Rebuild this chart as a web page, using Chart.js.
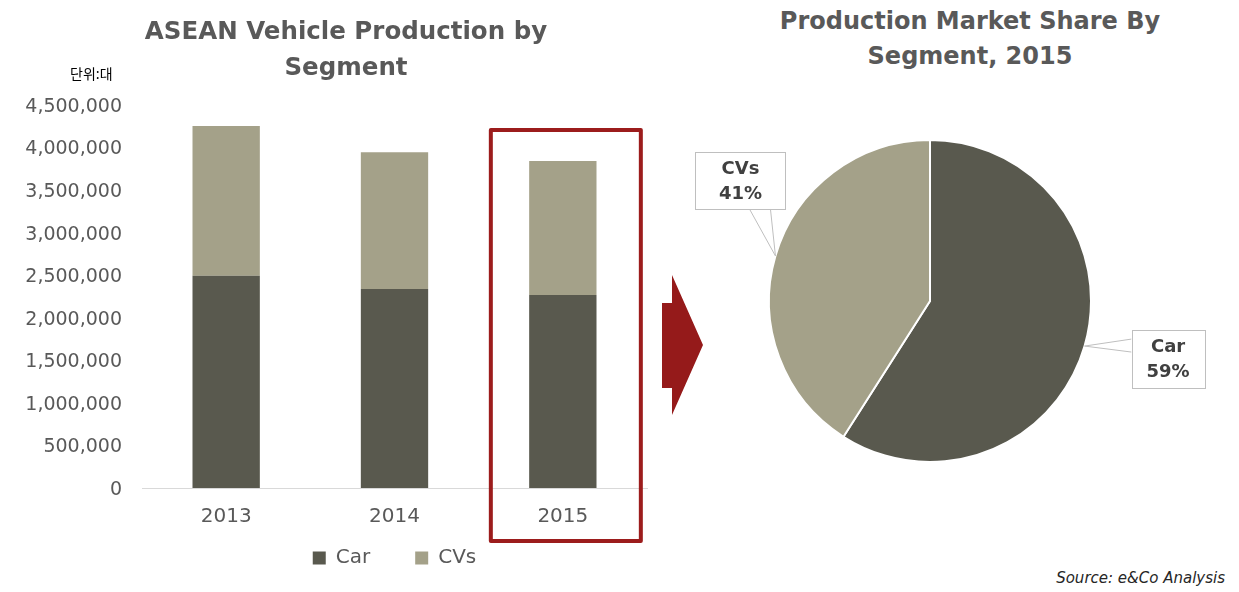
<!DOCTYPE html>
<html>
<head>
<meta charset="utf-8">
<script src="https://cdn.jsdelivr.net/npm/chart.js@4.4.0/dist/chart.umd.min.js"></script>
<style>
  body { margin: 0; background: #fff; width: 1239px; height: 592px; overflow: hidden; position: relative; font-family: "DejaVu Sans", sans-serif; }
  .title { position: absolute; text-align: center; font-weight: bold; font-size: 24px; color: #595959; line-height: 36px; z-index: 2; }
  #bar-title { left: 96px; top: 13px; width: 500px; font-size: 24.5px; }
  #pie-title { left: 720px; top: 4px; width: 500px; line-height: 35px; }
  #unit { position: absolute; left: 70px; top: 63px; font-size: 14px; font-family: "Noto Sans CJK KR", sans-serif; color: #000; z-index: 2; }
  #source { position: absolute; right: 14px; top: 569px; font-size: 15px; font-style: italic; color: #262626; z-index: 2; }
  #arrow { position: absolute; left: 662px; top: 275px; width: 41px; height: 140px; background: #951a1a; z-index: 2;
    clip-path: polygon(0 28px, 10px 28px, 10px 0, 41px 70px, 10px 140px, 10px 113px, 0 113px); }
  #bar-chart { position: absolute; left: 0; top: 0; }
  #pie-chart { position: absolute; left: 640px; top: 100px; }
</style>
</head>
<body>
<div id="bar-title" class="title">ASEAN Vehicle Production by<br>Segment</div>
<div id="unit">단위:대</div>
<div id="pie-title" class="title">Production Market Share By<br>Segment, 2015</div>
<div id="arrow"></div>
<div id="source">Source: e&amp;Co Analysis</div>
<canvas id="bar-chart" width="660" height="592"></canvas>
<canvas id="pie-chart" width="580" height="402"></canvas>
<script>
// 데이터
const years = ['2013', '2014', '2015'];
const carValues = [2494000, 2338000, 2268000];
const cvValues = [1759000, 1606000, 1574000];
const segments = ['Car', 'CVs'];
const colors = ['#59594e', '#a4a189'];

// 2015 강조 박스
const highlightBox = {
  id: 'highlightBox',
  afterDraw(chart) {
    const { ctx } = chart;
    const cx = chart.scales.x.getPixelForValue(2);
    ctx.save();
    ctx.strokeStyle = '#9c1c1c';
    ctx.lineWidth = 4;
    ctx.lineJoin = 'round';
    ctx.strokeRect(cx - 72, 130, 150, 411);
    ctx.restore();
  }
};

// 범례를 x축 라벨 바로 아래로 당김
const legendShift = {
  id: 'legendShift',
  afterLayout(chart) {
    const lg = chart.legend;
    if (!lg) return;
    lg.top -= 25;
    lg.bottom = chart.height;
  }
};

new Chart(document.getElementById('bar-chart'), {
  type: 'bar',
  data: {
    labels: years,
    datasets: [
      { label: segments[0], data: carValues, backgroundColor: colors[0] },
      { label: segments[1], data: cvValues, backgroundColor: colors[1] }
    ]
  },
  options: {
    responsive: false,
    animation: false,
    layout: { padding: { top: 105, right: 13, bottom: 14, left: 0 } },
    datasets: { bar: { categoryPercentage: 0.5, barPercentage: 0.8 } },
    plugins: {
      tooltip: { enabled: false },
      legend: {
        position: 'bottom',
        fullSize: false,
        maxHeight: 50,
        labels: {
          boxWidth: 13,
          boxHeight: 13,
          padding: 45,
          color: '#595959',
          font: { family: 'DejaVu Sans', size: 20 }
        }
      }
    },
    scales: {
      x: {
        stacked: true,
        grid: { display: false, drawTicks: false },
        border: { display: true, color: '#d9d9d9', width: 1 },
        ticks: { padding: 17, color: '#595959', font: { family: 'DejaVu Sans', size: 20 } },
        afterFit: (s) => { s.height = 40; }
      },
      y: {
        stacked: true,
        min: 0,
        max: 4500000,
        grid: { display: false, drawTicks: false },
        border: { display: false },
        ticks: {
          stepSize: 500000,
          padding: 20,
          labelOffset: 2,
          color: '#595959',
          font: { family: 'DejaVu Sans', size: 19 },
          callback: (v) => Number(v).toLocaleString('en-US')
        },
        afterFit: (s) => { s.width = 142; }
      }
    }
  },
  plugins: [highlightBox, legendShift]
});

// 파이 차트 라벨 박스 위치 (앵커 기준)
const calloutLayout = [
  { boxX: 47, boxY: -16, w: 73, h: 58, side: 'left', p1: -7, p2: 6 },
  { boxX: -80, boxY: -104, w: 90, h: 57, side: 'bottom', p1: -26, p2: -5 }
];

const pieCallouts = {
  id: 'pieCallouts',
  afterDraw(chart) {
    const { ctx } = chart;
    const meta = chart.getDatasetMeta(0);
    const values = chart.data.datasets[0].data;
    const total = values.reduce((a, b) => a + b, 0);
    meta.data.forEach((arc, i) => {
      const { x, y, startAngle, endAngle, outerRadius } = arc.getProps(['x', 'y', 'startAngle', 'endAngle', 'outerRadius'], true);
      const mid = (startAngle + endAngle) / 2;
      const ax = x + Math.cos(mid) * outerRadius;
      const ay = y + Math.sin(mid) * outerRadius;
      const L = calloutLayout[i];
      const bx = ax + L.boxX, by = ay + L.boxY;
      ctx.save();
      ctx.strokeStyle = '#bfbfbf';
      ctx.lineWidth = 1;
      ctx.beginPath();
      if (L.side === 'bottom') {
        ctx.moveTo(ax + L.p1, by + L.h);
        ctx.lineTo(ax, ay);
        ctx.lineTo(ax + L.p2, by + L.h);
      } else {
        ctx.moveTo(bx, ay + L.p1);
        ctx.lineTo(ax, ay);
        ctx.lineTo(bx, ay + L.p2);
      }
      ctx.stroke();
      ctx.fillStyle = '#fff';
      ctx.fillRect(bx, by, L.w, L.h);
      ctx.strokeRect(Math.round(bx) + 0.5, Math.round(by) + 0.5, L.w, L.h);
      ctx.fillStyle = '#404040';
      ctx.font = 'bold 18px "DejaVu Sans"';
      ctx.textAlign = 'center';
      ctx.textBaseline = 'middle';
      ctx.fillText(chart.data.labels[i], bx + L.w / 2, by + 17);
      ctx.fillText(Math.round(values[i] / total * 100) + '%', bx + L.w / 2, by + 42);
      ctx.restore();
    });
  }
};

new Chart(document.getElementById('pie-chart'), {
  type: 'pie',
  data: {
    labels: segments,
    datasets: [{
      data: [carValues[2], cvValues[2]],
      backgroundColor: colors,
      borderColor: '#fff',
      borderWidth: 2
    }]
  },
  options: {
    responsive: false,
    animation: false,
    layout: { padding: 39 },
    plugins: { legend: { display: false }, tooltip: { enabled: false } }
  },
  plugins: [pieCallouts]
});
</script>
</body>
</html>
